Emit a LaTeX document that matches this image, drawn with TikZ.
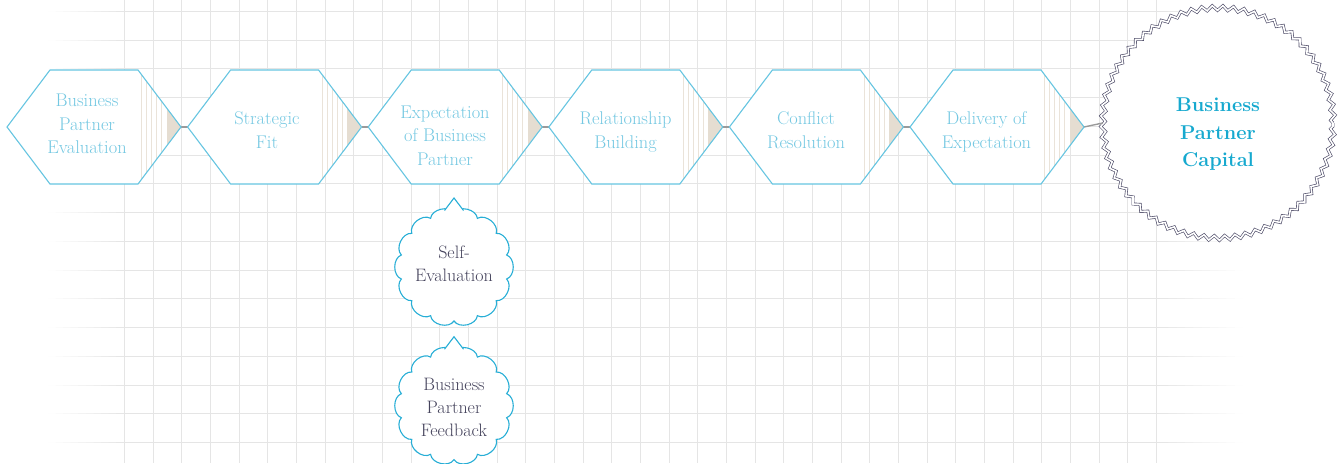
\documentclass[tikz,border=0pt]{standalone}
\usetikzlibrary{calc,decorations.pathmorphing}
\definecolor{gridc}{HTML}{E5E5E5}
\definecolor{hexline}{HTML}{66C5E1}
\definecolor{hextxt}{HTML}{74C8E2}
\definecolor{stripec}{HTML}{EAE3D9}
\definecolor{stripefill}{HTML}{E5DDD1}
\definecolor{connc}{HTML}{9A9A9A}
\definecolor{capline}{HTML}{4E4C68}
\definecolor{captxt}{HTML}{16A9CF}
\definecolor{cloudc}{HTML}{27AED6}
\definecolor{cloudtxt}{HTML}{45435C}
\newcommand\stagehex[1]{%
  \begin{scope}
    \clip (#1.west) -- ($(#1.north west)+(43,0)$) -- ($(#1.north east)+(-43,0)$) -- (#1.east) -- ($(#1.south east)+(-43,0)$) -- ($(#1.south west)+(43,0)$) -- cycle;
    \fill[white] (#1.south west) rectangle (#1.north east);
    \foreach \d in {39.5,34.5,29.5,24.5,19.5}
      \draw[stripeline] ($(#1.east)+(-\d,-60)$) -- ++(0,120);
    \fill[stripefill] ($(#1.east)+(-14.5,-60)$) rectangle ($(#1.east)+(2,60)$);
  \end{scope}
  \draw[hexborder] (#1.west) -- ($(#1.north west)+(43,0)$) -- ($(#1.north east)+(-43,0)$) -- (#1.east) -- ($(#1.south east)+(-43,0)$) -- ($(#1.south west)+(43,0)$) -- cycle;
}
\newcommand\puffring[1]{%
  \draw[cloudline,fill=white] ($(#1)+(90:54)$) \foreach \k in {1,...,14} { to[bend left=70] ($(#1)+({90+\k*360/14}:54)$) } -- cycle;
}
\begin{document}
\begin{tikzpicture}[x=1pt,y=-1pt,
  gridline/.style={draw=gridc,line width=1.3pt},
  hexbox/.style={rectangle,minimum width=174pt,minimum height=114pt,inner sep=0pt,outer sep=0pt},
  hexborder/.style={draw=hexline,line width=1.1pt,line join=miter},
  stripeline/.style={draw=stripec,line width=0.8pt},
  hextext/.style={align=center,text=hextxt,inner sep=0pt,font=\fontsize{18.4}{23.5}\selectfont},
  conn/.style={draw=connc,line width=1.4pt},
  capcircle/.style={circle,minimum size=230pt,inner sep=0pt,fill=white,draw=capline,line width=0.65pt,double=white,double distance=1.6pt,decorate,decoration={zigzag,segment length=10.5pt,amplitude=2.4pt}},
  captext/.style={align=center,text=captxt,inner sep=0pt,font=\fontsize{20}{27.5}\selectfont\bfseries},
  cloudline/.style={draw=cloudc,line width=1.1pt},
  cloudtext/.style={align=center,text=cloudtxt,inner sep=0pt,font=\fontsize{18}{23}\selectfont}]
\useasboundingbox (0,0) rectangle (1343,463);
% grid
\foreach \i in {0,...,36} {
  \pgfmathsetmacro\xx{round(124+\i*28.667)+0.5}
  \draw[gridline] (\xx,0) -- (\xx,463);
}
\foreach \j in {0,...,15} {
  \pgfmathsetmacro\yy{round(11+\j*28.733)+0.5}
  \draw[gridline] (124,\yy) -- (1160,\yy);
  \foreach \s in {0,...,9} {
    \pgfmathsetmacro\pa{\s*10+5}
    \draw[draw=gridc!\pa!white,line width=1.3pt] ({48+\s*7.6},\yy) -- ({48+(\s+1)*7.6+0.3},\yy);
    \draw[draw=gridc!\pa!white,line width=1.3pt] ({1243-\s*8.3},\yy) -- ({1243-(\s+1)*8.3-0.3},\yy);
  }
}
% hexagon stages
\node[hexbox] (h1) at (94,127) {};
\node[hexbox] (h2) at (274.6,127) {};
\node[hexbox] (h3) at (455.2,127) {};
\node[hexbox] (h4) at (635.8,127) {};
\node[hexbox] (h5) at (816.4,127) {};
\node[hexbox] (h6) at (997,127) {};
\node[capcircle] (cap) at (1218,123) {};
\draw[conn] (h1.east) -- (h2.west);
\draw[conn] (h2.east) -- (h3.west);
\draw[conn] (h3.east) -- (h4.west);
\draw[conn] (h4.east) -- (h5.west);
\draw[conn] (h5.east) -- (h6.west);
\draw[conn] (h6.east) -- (cap.west);
\stagehex{h1}\stagehex{h2}\stagehex{h3}\stagehex{h4}\stagehex{h5}\stagehex{h6}
\node[hextext] (t1) at (87,124.2) {Business\\Partner\\Evaluation};
\node[hextext] (t2) at (267,130.3) {Strategic\\Fit};
\node[hextext] (t3) at (445,135.5) {Expectation\\of Business\\Partner};
\node[hextext] (t4) at (625.5,132.1) {Relationship\\Building};
\node[hextext] (t5) at (806,130.3) {Conflict\\Resolution};
\node[hextext] (t6) at (986.5,132) {Delivery of\\Expectation};
\node[captext] (capt) at (1218,134.3) {Business\\Partner\\Capital};
% clouds
\coordinate (selfc) at (454,267);
\coordinate (selftip) at (454,198);
\puffring{selfc}
\fill[white] ($(selftip)+(-9.5,12.5)$) -- (selftip) -- ($(selftip)+(9.5,12.5)$) -- ($(selftip)+(0,17)$) -- cycle;
\draw[cloudline,line join=miter] ($(selftip)+(-9.5,12.5)$) -- (selftip) -- ($(selftip)+(9.5,12.5)$);
\node[cloudtext] (selft) at (454,263.5) {Self-\\Evaluation};
\coordinate (fbc) at (454,405.7);
\coordinate (fbtip) at (454,336.7);
\puffring{fbc}
\fill[white] ($(fbtip)+(-9.5,12.5)$) -- (fbtip) -- ($(fbtip)+(9.5,12.5)$) -- ($(fbtip)+(0,17)$) -- cycle;
\draw[cloudline,line join=miter] ($(fbtip)+(-9.5,12.5)$) -- (fbtip) -- ($(fbtip)+(9.5,12.5)$);
\node[cloudtext] (fbt) at (454,407.2) {Business\\Partner\\Feedback};
\end{tikzpicture}
\end{document}
